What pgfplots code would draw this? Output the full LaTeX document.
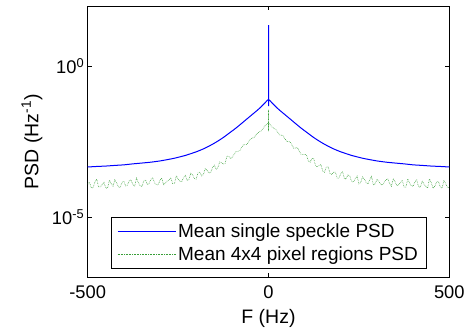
\documentclass[border=0pt]{standalone}
\usepackage{fontspec}
\setmainfont{Liberation Sans}
\usepackage{pgfplots}
\pgfplotsset{compat=1.18}
\definecolor{mblue}{rgb}{0,0,1}
\definecolor{mgreen}{rgb}{0.22,0.62,0.22}
\newcommand{\ff}{\fontsize{18.3}{21.5}\selectfont}
\newcommand{\fg}{\fontsize{19}{22}\selectfont}
\newcommand{\fl}{\fontsize{19.5}{23}\selectfont}
\begin{document}
\begin{tikzpicture}
\begin{axis}[name=ax, scale only axis, width=361.6pt, height=271.3pt,
  xmin=-500, xmax=500, ymode=log, ymin=1e-7, ymax=1e2,
  xtick={-500,0,500}, xticklabels={-500,0,500},
  ytick={1e-5,1}, yticklabels={10\textsuperscript{-5},10\textsuperscript{0}},
  yminorticks=false, xminorticks=false,
  tick align=inside, major tick length=4pt,
  tick style={black, line width=0.5pt},
  axis line style={black, line width=0.6pt},
  tick label style={font=\ff},
  xticklabel style={yshift=-5pt},
  label style={font=\fl},
  xlabel={F (Hz)}, ylabel={PSD (Hz\textsuperscript{-1})},
  xlabel style={at={(axis description cs:0.5,-0.151)}, anchor=center},
  ylabel style={at={(axis description cs:-0.154,0.5)}, anchor=center},
  legend style={at={(0.5,0.033)}, anchor=south, draw=black, line width=0.6pt,
    font=\fg, legend cell align=left, row sep=4pt, inner xsep=6pt, inner ysep=4pt},
  legend image code/.code={\draw[#1] (0pt,0pt) -- (58pt,0pt);},
]
\addplot[mblue, line width=1pt] coordinates {
(-500,4.57e-4) (-475,4.75e-4) (-450,4.90e-4) (-425,5.15e-4) (-400,5.37e-4) (-375,5.8e-4) (-350,6.17e-4)
(-325,6.6e-4) (-300,7.24e-4) (-280,8.0e-4) (-260,8.91e-4) (-245,9.9e-4) (-230,1.10e-3) (-215,1.26e-3) (-200,1.45e-3)
(-190,1.62e-3) (-180,1.82e-3) (-170,2.08e-3) (-160,2.40e-3) (-150,2.80e-3) (-140,3.31e-3) (-130,3.95e-3) (-120,4.79e-3)
(-110,5.9e-3) (-100,7.24e-3) (-90,8.91e-3) (-80,1.12e-2) (-70,1.41e-2) (-60,1.78e-2) (-50,2.24e-2)
(-40,2.82e-2) (-30,3.55e-2) (-20,4.57e-2) (-10,6.03e-2) (-5,7.08e-2)
(0,7.94e-2) (0,23) (0,4.8e-2) (0,7.94e-2)
(5,7.08e-2) (10,6.03e-2) (20,4.57e-2) (30,3.55e-2) (40,2.82e-2) (50,2.24e-2) (60,1.78e-2) (70,1.41e-2)
(80,1.12e-2) (90,8.91e-3) (100,7.24e-3) (110,5.9e-3) (120,4.79e-3) (130,3.95e-3) (140,3.31e-3) (150,2.80e-3)
(160,2.40e-3) (170,2.08e-3) (180,1.82e-3) (190,1.62e-3) (200,1.45e-3) (215,1.26e-3) (230,1.10e-3) (245,9.9e-4)
(260,8.91e-4) (280,8.0e-4) (300,7.24e-4) (325,6.6e-4) (350,6.17e-4) (375,5.8e-4) (400,5.37e-4) (425,5.15e-4)
(450,4.90e-4) (475,4.75e-4) (500,4.57e-4)
};
\addlegendentry{Mean single speckle PSD}
\addplot[mgreen, densely dotted, line width=0.6pt] coordinates {
(-500,1.23e-4) (-495,1.43e-4) (-490,9.12e-5) (-485,9.4e-5) (-480,1.48e-4) (-475,1.78e-4) (-470,1.00e-4)
(-465,1.0e-4) (-460,1.18e-4) (-455,1.41e-4) (-450,9.12e-5) (-445,9.2e-5) (-440,1.66e-4) (-435,1.28e-4)
(-430,1.05e-4) (-425,1.70e-4) (-420,1.35e-4) (-415,1.0e-4) (-410,9.55e-5) (-405,1.43e-4) (-400,1.51e-4)
(-395,1.08e-4) (-390,1.15e-4) (-385,1.59e-4) (-380,1.70e-4) (-375,1.18e-4) (-370,1.07e-4) (-365,1.95e-4)
(-360,1.38e-4) (-355,1.09e-4) (-350,1.02e-4) (-345,1.55e-4) (-340,1.70e-4) (-335,1.18e-4) (-330,1.32e-4)
(-325,1.80e-4) (-320,2.00e-4) (-315,1.35e-4) (-310,1.18e-4) (-305,1.16e-4) (-300,1.66e-4) (-295,1.96e-4)
(-290,1.15e-4) (-285,1.36e-4) (-280,1.58e-4) (-275,1.69e-4) (-270,2.00e-4) (-265,1.28e-4) (-260,1.29e-4)
(-255,2.33e-4) (-250,1.82e-4) (-245,1.54e-4) (-240,1.48e-4) (-235,2.04e-4) (-230,2.40e-4) (-225,1.62e-4)
(-220,1.78e-4) (-215,2.83e-4) (-210,2.51e-4) (-205,1.89e-4) (-200,1.82e-4) (-195,2.88e-4) (-190,3.09e-4)
(-185,2.30e-4) (-180,2.57e-4) (-175,3.99e-4) (-170,3.55e-4) (-165,2.88e-4) (-160,3.02e-4) (-155,4.32e-4)
(-150,5.25e-4) (-145,3.84e-4) (-140,4.27e-4) (-135,6.67e-4) (-130,6.31e-4) (-125,5.68e-4) (-120,6.03e-4)
(-115,1.05e-3) (-110,1.05e-3) (-105,8.6e-4) (-100,9.77e-4) (-90,1.48e-3)
(-80,1.55e-3) (-70,2.45e-3) (-60,2.57e-3) (-50,3.89e-3) (-40,4.37e-3) (-30,6.17e-3) (-20,7.24e-3)
(-10,1.05e-2) (0,1.35e-2) (0,3.6e-2) (0,7.1e-3) (0,1.35e-2)
(10,9.55e-3) (20,8.13e-3) (30,5.37e-3) (40,5.01e-3) (50,3.24e-3) (60,3.09e-3) (70,1.91e-3) (80,2.00e-3)
(90,1.20e-3) (100,1.20e-3) (105,1.15e-3) (110,7.24e-4) (115,6.6e-4) (120,8.71e-4) (125,8.8e-4) (130,5.01e-4)
(135,4.6e-4) (140,5.13e-4) (145,5.55e-4) (150,3.31e-4) (155,3.06e-4) (160,4.57e-4) (165,4.64e-4)
(170,2.82e-4) (175,2.57e-4) (180,3.09e-4) (185,3.06e-4) (190,1.95e-4) (195,1.96e-4) (200,2.75e-4)
(205,3.15e-4) (210,1.86e-4) (215,1.85e-4) (220,2.57e-4) (225,2.25e-4) (230,1.48e-4) (235,1.45e-4)
(240,1.86e-4) (245,2.27e-4) (250,1.26e-4) (255,1.40e-4) (260,2.14e-4) (265,1.80e-4) (270,1.41e-4)
(275,1.25e-4) (280,1.74e-4) (285,2.22e-4) (290,1.18e-4) (295,1.26e-4) (300,1.78e-4) (305,1.58e-4)
(310,1.20e-4) (315,1.15e-4) (320,1.41e-4) (325,1.73e-4) (330,1.82e-4) (335,1.31e-4) (340,1.05e-4)
(345,1.87e-4) (350,1.48e-4) (355,1.09e-4) (360,1.18e-4) (365,1.39e-4) (370,1.66e-4) (375,9.9e-5)
(380,9.77e-5) (385,1.83e-4) (390,1.35e-4) (395,1.08e-4) (400,1.05e-4) (405,1.49e-4) (410,1.70e-4)
(415,1.0e-4) (420,9.77e-5) (425,1.58e-4) (430,1.23e-4) (435,1.04e-4) (440,9.12e-5) (445,1.84e-4)
(450,1.41e-4) (455,9.0e-5) (460,1.05e-4) (465,1.46e-4) (470,1.51e-4) (475,1.0e-4) (480,9.12e-5)
(485,1.65e-4) (490,1.29e-4) (495,9.4e-5) (500,9.77e-5)
};
\addlegendentry{Mean 4x4 pixel regions PSD}
\end{axis}
\path ([xshift=-87.7pt,yshift=-54.7pt]ax.south west) rectangle ([xshift=19.7pt,yshift=6pt]ax.north east);
\end{tikzpicture}
\end{document}
